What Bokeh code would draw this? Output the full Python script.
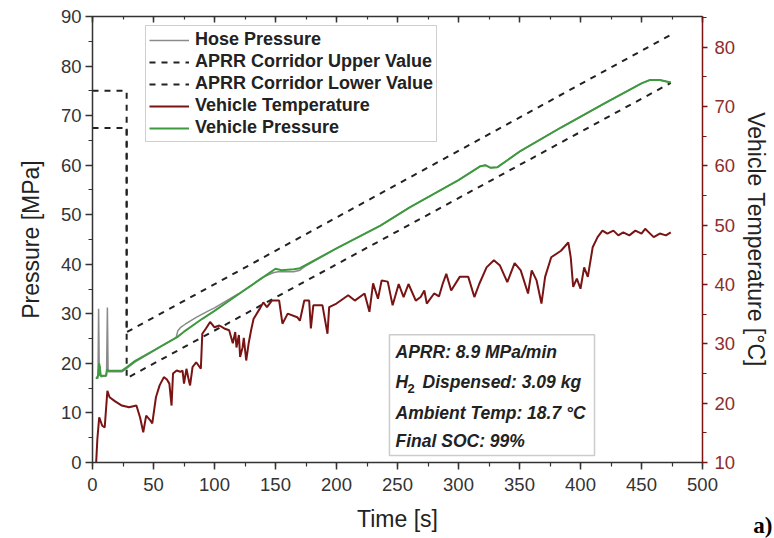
from bokeh.plotting import figure
from bokeh.models import (Range1d, LinearAxis, Legend, LegendItem, Label, Title,
                          BoxAnnotation, SingleIntervalTicker)
from bokeh.embed import file_html
from bokeh.resources import INLINE

# ---------------- data ----------------
# APRR corridor (pressure, MPa)
upper_t = [0, 28, 28, 474]
upper_p = [75, 75, 26.3, 86.3]
lower_t = [0, 28, 28, 474]
lower_p = [67.5, 67.5, 17.0, 76.6]

# Hose pressure (MPa)
hose_t = [3, 4.5, 5.0, 5.6, 6.2, 7, 11.5, 12.2, 12.8, 24, 28, 35, 50, 60, 68.5, 70, 72, 76,
          85, 95, 100, 120, 140, 148, 152, 165, 170, 175, 200, 236, 260, 300, 318, 322,
          326, 332, 351, 384, 420, 450, 457, 465, 474]
hose_p = [17, 17, 31, 17.5, 19.5, 17.3, 17.5, 31.3, 18.3, 18.3, 19, 20.3, 22.5, 24, 25.2,
          26.6, 27.2, 27.9, 29.3, 30.6, 31.2, 34.1, 37.4, 38.3, 38.5, 38.5, 38.8, 39.7, 43.2,
          47.8, 51.5, 57, 59.8, 60, 59.5, 59.6, 62.9, 67.6, 72.5, 76.5, 77.2, 77.2, 76.7]

# Vehicle pressure (MPa)
veh_t = [3, 4.5, 5.5, 6.5, 11, 12, 13, 24, 28, 35, 50, 60, 69.4, 75, 90, 100, 120, 140,
         150, 155, 165, 170, 175, 200, 236, 260, 300, 318, 322, 326, 332, 351, 384, 420,
         450, 457, 465, 474]
veh_p = [16.9, 17.5, 20, 17.5, 17.5, 18.8, 18.5, 18.5, 19.2, 20.5, 22.6, 24, 25.3, 26.4,
         29.0, 30.6, 34.0, 37.4, 39.1, 38.8, 39.0, 39.2, 39.9, 43.2, 47.8, 51.5, 57, 59.8,
         60, 59.5, 59.6, 62.9, 67.6, 72.5, 76.5, 77.2, 77.2, 76.7]

# Vehicle temperature (deg C, right axis)
temp_t = [3, 4, 5.5, 8, 10, 12.2, 14, 18, 24, 30, 36, 39, 41.6, 44, 47, 49, 52, 55, 58.5,
          61, 63, 64.8, 66, 69, 72, 73.8, 75, 77, 79, 80, 82, 85, 88.8, 90, 93, 96.4, 100,
          104, 108, 112, 115, 117, 118, 120, 121, 123, 124, 126, 128, 130, 132, 137, 140,
          143, 147, 153, 155.7, 160, 167.8, 170, 173.6, 177.6, 179, 181, 188.5, 192.6, 194,
          200, 209.6, 215, 223, 227, 230, 234, 237, 242, 246, 251, 255, 259, 265, 269, 272,
          274, 280, 284, 287, 290, 294, 301, 308, 313, 317, 323, 329, 334, 340, 346, 351,
          357, 360, 364, 368, 371, 376, 384, 390, 392, 394, 397, 400, 403, 406, 410, 414,
          418, 422, 427, 431, 435, 440, 445, 450, 453, 456, 460, 465, 470, 474]
temp_c = [10, 14, 17.6, 16.2, 15.9, 22.1, 21.0, 20.4, 19.6, 19.3, 19.6, 17.6, 15.1, 17.9,
          17.2, 16.6, 21.0, 23.0, 24.4, 24.0, 23.3, 19.6, 25.0, 25.5, 25.3, 25.5, 23.3, 25.8,
          23.8, 23.0, 26.1, 26.9, 25.8, 31.7, 32.6, 33.7, 32.8, 33.1, 32.6, 32.3, 30.1, 32.0,
          29.4, 31.5, 27.8, 29.4, 31.0, 27.2, 30.1, 32.3, 34.2, 35.9, 37.0, 36.2, 37.3, 37.3,
          33.4, 35.1, 34.5, 33.9, 37.3, 37.3, 32.6, 36.5, 36.5, 31.7, 36.2, 36.8, 38.2, 37.3,
          38.5, 35.4, 40.2, 37.6, 40.7, 40.5, 36.5, 40.1, 37.9, 40.1, 37.3, 37.9, 39.0, 36.8,
          38.5, 38.0, 40.1, 41.8, 39.0, 41.3, 41.3, 37.9, 40.1, 42.9, 44.1, 43.2, 40.4, 43.6,
          42.4, 38.5, 42.4, 40.7, 36.8, 41.3, 44.6, 45.7, 47.1, 44.6, 39.6, 41.0, 39.3, 42.9,
          41.3, 46.3, 48.0, 49.1, 48.6, 49.1, 48.3, 48.8, 48.3, 49.1, 48.6, 49.4, 48.8, 48.0,
          48.6, 48.3, 48.8]

legend_labels = ["Hose Pressure", "APRR Corridor Upper Value", "APRR Corridor Lower Value",
                 "Vehicle Temperature", "Vehicle Pressure"]
info_lines = ["APRR: 8.9 MPa/min", "Dispensed: 3.09 kg", "Ambient Temp: 18.7 °C",
              "Final SOC: 99%"]

# ---------------- figure ----------------
FONT = "Liberation Sans"
DARKRED = "#7a1414"
GREEN = "#3e9a3e"

p = figure(width=774, height=538, x_range=Range1d(0, 500), y_range=Range1d(0, 90),
           output_backend="svg", toolbar_location=None,
           min_border_left=92, min_border_right=72, min_border_top=16,
           min_border_bottom=76)
p.xgrid.visible = False
p.ygrid.visible = False
p.outline_line_color = None
p.background_fill_color = "white"

p.extra_y_ranges = {"temp": Range1d(10, 85.2)}

def style_axis(ax, color="#333333", label_color="#333333"):
    ax.axis_line_color = color
    ax.axis_line_width = 1.5
    ax.major_tick_line_color = color
    ax.minor_tick_line_color = color
    ax.major_tick_line_width = 1.5
    ax.minor_tick_line_width = 1.2
    ax.major_tick_out = 7
    ax.major_tick_in = 0
    ax.minor_tick_out = 4
    ax.minor_tick_in = 0
    ax.major_label_text_font = FONT
    ax.major_label_text_font_size = "18.5px"
    ax.major_label_text_color = label_color
    ax.axis_label_text_font = FONT
    ax.axis_label_text_font_size = "23px"
    ax.axis_label_text_font_style = "normal"
    ax.axis_label_text_color = "#222222"

xa = p.xaxis[0]
xa.ticker = SingleIntervalTicker(interval=50, num_minor_ticks=2)
xa.axis_label = "Time [s]"
style_axis(xa)
xa.major_label_standoff = 8
xa.axis_label_standoff = 12

ya = p.yaxis[0]
ya.ticker = SingleIntervalTicker(interval=10, num_minor_ticks=2)
ya.axis_label = "Pressure [MPa]"
style_axis(ya)
ya.major_label_standoff = 4
ya.axis_label_standoff = 14

ra = LinearAxis(y_range_name="temp", axis_label="Vehicle Temperature [°C]",
                ticker=SingleIntervalTicker(interval=10, num_minor_ticks=2))
style_axis(ra, color=DARKRED, label_color="#8b2e2e")
ra.major_tick_out = 5
ra.major_label_standoff = 7
ra.axis_label_standoff = 5
p.add_layout(ra, "right")

ta = LinearAxis(ticker=SingleIntervalTicker(interval=50, num_minor_ticks=2))
style_axis(ta)
ta.major_label_text_font_size = "1px"
ta.major_label_text_color = None
ta.major_label_standoff = 0
ta.major_tick_out = 0
ta.major_tick_in = 6
ta.minor_tick_out = 0
ta.minor_tick_in = 3
p.add_layout(ta, "above")

# ---------------- series ----------------
r_up = p.line(upper_t, upper_p, line_color="#222222", line_width=2, line_dash="6 6")
r_lo = p.line(lower_t, lower_p, line_color="#222222", line_width=2, line_dash="6 6")
r_hose = p.line(hose_t, hose_p, line_color="#8a8a8a", line_width=1.5)
r_veh = p.line(veh_t, veh_p, line_color=GREEN, line_width=2)
r_temp = p.line(temp_t, temp_c, line_color=DARKRED, line_width=2, y_range_name="temp")

renderers = [r_hose, r_up, r_lo, r_temp, r_veh]
legend = Legend(items=[LegendItem(label=l, renderers=[r]) for l, r in zip(legend_labels, renderers)],
                location=(53, 320), orientation="vertical")
legend.label_text_font = FONT
legend.label_text_font_size = "18px"
legend.label_text_font_style = "bold"
legend.label_text_color = "#222222"
legend.glyph_width = 40
legend.glyph_height = 20
legend.label_height = 20
legend.label_standoff = 6
legend.spacing = 1
legend.padding = 3
legend.margin = 0
legend.border_line_color = "#a0a0a0"
legend.border_line_width = 1.5
legend.background_fill_color = "white"
legend.background_fill_alpha = 1
p.add_layout(legend, "center")

# ---------------- info box ----------------
box = BoxAnnotation(left=243.4, right=411.5, bottom=1.4, top=25.8,
                    fill_color="white", fill_alpha=1.0,
                    line_color="#555555", line_width=1.5)
p.add_layout(box)

info_y = [22.2, 16.2, 9.9, 4.4]
for i, (txt, yy) in enumerate(zip(info_lines, info_y)):
    xoff = 0 if i != 1 else 27
    p.add_layout(Label(x=248.4, y=yy, x_offset=xoff, text=txt, text_font=FONT,
                       text_font_size="17.5px", text_font_style="bold italic",
                       text_color="#222222", text_baseline="middle"))
p.add_layout(Label(x=248.4, y=16.2, text="H", text_font=FONT, text_font_size="17.5px",
                   text_font_style="bold italic", text_color="#222222",
                   text_baseline="middle"))
p.add_layout(Label(x=248.4, y=16.2, x_offset=12, y_offset=-6, text="2", text_font=FONT,
                   text_font_size="13px", text_font_style="bold", text_color="#222222",
                   text_baseline="middle"))

# panel tag "a)" as a (near) zero-height title under the x axis
tag = Title(text="a)\n", align="right", text_font="Liberation Serif",
            text_font_size="23px", text_font_style="bold", text_color="#000000",
            vertical_align="bottom", standoff=-56, offset=-70)
p.add_layout(tag, "below")

open("out.html", "w").write(file_html(p, INLINE))
